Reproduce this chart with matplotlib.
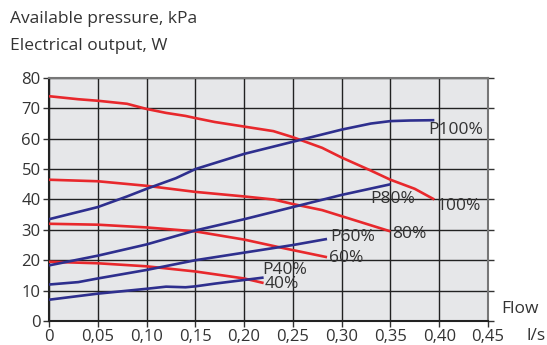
import numpy as np
import matplotlib.pyplot as plt

plt.rcParams['font.family'] = ['Open Sans', 'DejaVu Sans']

# available pressure (red), kPa
flow_p100 = [0, 0.03, 0.05, 0.08, 0.10, 0.12, 0.14, 0.15, 0.17, 0.20, 0.23, 0.25, 0.28, 0.30, 0.33, 0.35, 0.375, 0.395]
pres_100 = [74, 73, 72.5, 71.5, 69.8, 68.5, 67.5, 66.8, 65.5, 64, 62.5, 60.5, 57, 53.8, 49.5, 46.5, 43.5, 40]
flow_p80 = [0, 0.05, 0.10, 0.15, 0.20, 0.23, 0.25, 0.28, 0.30, 0.33, 0.35]
pres_80 = [46.5, 46, 44.5, 42.5, 41, 40, 38.5, 36.5, 34.5, 31.5, 29.5]
flow_p60 = [0, 0.05, 0.10, 0.15, 0.20, 0.24, 0.285]
pres_60 = [32, 31.7, 30.8, 29.5, 26.8, 24, 21]
flow_p40 = [0, 0.05, 0.10, 0.15, 0.20, 0.22]
pres_40 = [19.5, 19, 18, 16.3, 14, 12.5]

# electrical output (blue), W
flow_e100 = [0, 0.05, 0.08, 0.10, 0.13, 0.15, 0.18, 0.20, 0.25, 0.30, 0.33, 0.35, 0.37, 0.395]
power_100 = [33.5, 37.5, 41, 43.5, 47, 50, 53, 55, 59, 63, 65, 65.8, 66, 66.1]
flow_e80 = [0, 0.05, 0.10, 0.15, 0.20, 0.25, 0.30, 0.35]
power_80 = [18.3, 21.5, 25.2, 29.8, 33.5, 37.5, 41.5, 45]
flow_e60 = [0, 0.03, 0.05, 0.10, 0.15, 0.20, 0.25, 0.285]
power_60 = [12, 12.8, 14, 16.8, 20, 22.5, 25, 27]
flow_e40 = [0, 0.05, 0.10, 0.12, 0.14, 0.15, 0.17, 0.22]
power_40 = [7, 9, 10.6, 11.3, 11.1, 11.4, 12.3, 14.3]

labels = ['100%', '80%', '60%', '40%']
label_pos = [(0.397, 38.0), (0.352, 28.6), (0.287, 20.7), (0.221, 12.3)]
p_labels = ['P100%', 'P80%', 'P60%', 'P40%']
p_label_pos = [(0.389, 62.9), (0.329, 40.2), (0.288, 27.7), (0.219, 16.8)]

red = '#e8282c'
blue = '#2e2f8e'
txt = '#333333'

fig = plt.figure(figsize=(5.47, 3.45), dpi=100)
ax = fig.add_axes([0.0896, 0.0696, 0.8025, 0.7044])
ax.set_facecolor('#e6e7e9')

for fx, py in [(flow_p100, pres_100), (flow_p80, pres_80), (flow_p60, pres_60), (flow_p40, pres_40)]:
    ax.plot(fx, py, color=red, lw=1.9, solid_capstyle='butt', zorder=3)
for fx, py in [(flow_e100, power_100), (flow_e80, power_80), (flow_e60, power_60), (flow_e40, power_40)]:
    ax.plot(fx, py, color=blue, lw=1.9, solid_capstyle='butt', zorder=3)

for t, (x, y) in zip(labels, label_pos):
    ax.text(x, y, t, fontsize=12.5, color=txt, va='center', ha='left', zorder=4)
for t, (x, y) in zip(p_labels, p_label_pos):
    ax.text(x, y, t, fontsize=12.5, color=txt, va='center', ha='left', zorder=4)

ax.set_xlim(0, 0.45)
ax.set_ylim(0, 80)
xt = np.arange(0, 0.451, 0.05)
ax.set_xticks(xt)
ax.set_xticklabels(['0'] + [f'{v:.2f}'.replace('.', ',') for v in xt[1:]])
ax.set_yticks(np.arange(0, 81, 10))
ax.tick_params(labelsize=12, colors=txt, length=4, width=1, direction='out', pad=2)
ax.tick_params(axis='y', right=True)
ax.grid(True, color='#222222', lw=1)
for s in ax.spines.values():
    s.set_color('#777777')
    s.set_linewidth(1.5)
ax.spines['left'].set_color('#222222')
ax.spines['bottom'].set_color('#222222')

fig.text(0.018, 0.946, 'Available pressure, kPa', fontsize=12.5, color=txt, va='center')
fig.text(0.018, 0.868, 'Electrical output, W', fontsize=12.5, color=txt, va='center')
fig.text(0.916, 0.104, 'Flow', fontsize=12.5, color=txt, va='center')
fig.text(0.962, 0.025, 'l/s', fontsize=12.5, color=txt, va='center')

fig.savefig('out.png', dpi=100)
